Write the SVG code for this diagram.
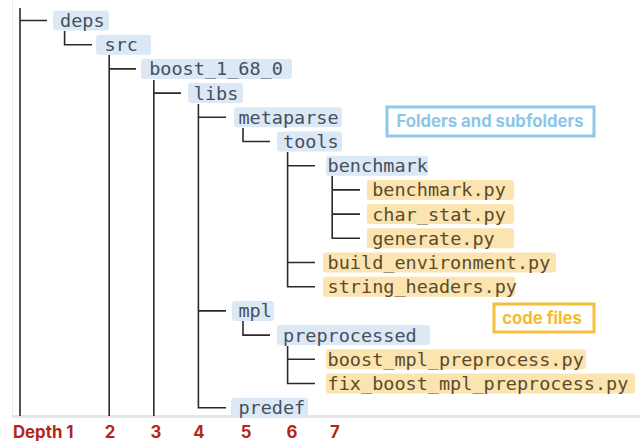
<svg xmlns="http://www.w3.org/2000/svg" width="640" height="441" viewBox="0 0 640 441">
<style>
.t{font-family:"DejaVu Sans Mono","Liberation Mono",monospace;font-size:18.5px}
.fd rect{fill:#dce8f5}
.fd text{fill:#45505c}
.fl rect{fill:#fbe4b0}
.fl text{fill:#5a4b2b}
.c{fill:none;stroke:#2a2a2a;stroke-width:1.6}
.dp{font-family:Inter,"Liberation Sans",sans-serif;font-weight:700;font-size:16.8px;fill:#b3251d}
.lg{font-family:Inter,"Liberation Sans",sans-serif;font-weight:700;font-size:16.7px}
</style>
<rect width="640" height="441" fill="#ffffff"/>
<line x1="12.5" y1="0" x2="12.5" y2="416" stroke="#ececec" stroke-width="1"/>
<rect x="12" y="415" width="628" height="3" fill="#e6e6e6"/>
<g id="connectors" class="c">
<path d="M20 8V416M20 20.5H47"/>
<path d="M64.6 31V44.7H92"/>
<path d="M109.2 55V416M109.2 68.9H136"/>
<path d="M153.8 80V416M153.8 93.1H181"/>
<path d="M198.4 104V407.7H226M198.4 117.3H226M198.4 310.9H226"/>
<path d="M243 128V141.5H270"/>
<path d="M287.6 152V286.7H315M287.6 165.7H315M287.6 262.5H315"/>
<path d="M332.2 176V238.3H360M332.2 189.9H360M332.2 214.1H360"/>
<path d="M243 321V335.1H270"/>
<path d="M287.6 346V383.5H315M287.6 359.3H315"/>
</g>
<g id="deps" class="fd"><rect x="53" y="10.5" width="56" height="20" rx="3"/><text class="t" x="60" y="27">deps</text></g>
<g id="src" class="fd"><rect x="96" y="34.7" width="55" height="20" rx="3"/><text class="t" x="104.6" y="51.2">src</text></g>
<g id="boost_1_68_0" class="fd"><rect x="141" y="58.9" width="151" height="20" rx="3"/><text class="t" x="149.2" y="75.4">boost_1_68_0</text></g>
<g id="libs" class="fd"><rect x="188" y="83.1" width="55" height="20" rx="3"/><text class="t" x="193.8" y="99.6">libs</text></g>
<g id="metaparse" class="fd"><rect x="234" y="107.3" width="108" height="20" rx="3"/><text class="t" x="238.4" y="123.8">metaparse</text></g>
<g id="tools" class="fd"><rect x="277" y="131.5" width="65" height="20" rx="3"/><text class="t" x="283" y="148">tools</text></g>
<g id="benchmark" class="fd"><rect x="326" y="155.7" width="102" height="20" rx="3"/><text class="t" x="327.6" y="172.2">benchmark</text></g>
<g id="benchmark_py" class="fl"><rect x="367" y="179.9" width="147" height="20" rx="3"/><text class="t" x="372.2" y="196.4">benchmark.py</text></g>
<g id="char_stat_py" class="fl"><rect x="367" y="204.1" width="147" height="20" rx="3"/><text class="t" x="372.2" y="220.6">char_stat.py</text></g>
<g id="generate_py" class="fl"><rect x="367" y="228.3" width="147" height="20" rx="3"/><text class="t" x="372.2" y="244.8">generate.py</text></g>
<g id="build_environment_py" class="fl"><rect x="323" y="252.5" width="233" height="20" rx="3"/><text class="t" x="327.6" y="269">build_environment.py</text></g>
<g id="string_headers_py" class="fl"><rect x="323" y="276.7" width="192" height="20" rx="3"/><text class="t" x="327.6" y="293.2">string_headers.py</text></g>
<g id="mpl" class="fd"><rect x="232" y="300.9" width="42" height="20" rx="3"/><text class="t" x="238.4" y="317.4">mpl</text></g>
<g id="preprocessed" class="fd"><rect x="277" y="325.1" width="153" height="20" rx="3"/><text class="t" x="283" y="341.6">preprocessed</text></g>
<g id="boost_mpl_preprocess_py" class="fl"><rect x="326" y="349.3" width="260" height="20" rx="3"/><text class="t" x="327.6" y="365.8">boost_mpl_preprocess.py</text></g>
<g id="fix_boost_mpl_preprocess_py" class="fl"><rect x="326" y="373.5" width="309" height="20" rx="3"/><text class="t" x="327.6" y="390">fix_boost_mpl_preprocess.py</text></g>
<g id="predef" class="fd"><rect x="231" y="397.7" width="77" height="20" rx="3"/><text class="t" x="238.4" y="414.2">predef</text></g>
<g id="legend_folders"><rect x="387" y="107" width="207" height="29" fill="none" stroke="#90c8e8" stroke-width="3"/><text class="lg" x="490" y="127" text-anchor="middle" fill="#8fc6e6">Folders and subfolders</text></g>
<g id="legend_code"><rect x="494" y="304" width="100" height="28" fill="none" stroke="#f4c040" stroke-width="3"/><text class="lg" x="542" y="324" text-anchor="middle" fill="#f3bb30">code files</text></g>
<g id="depth_labels">
<text class="dp" x="13" y="438">Depth 1</text>
<text class="dp" x="110" y="438" text-anchor="middle">2</text>
<text class="dp" x="156" y="438" text-anchor="middle">3</text>
<text class="dp" x="199" y="438" text-anchor="middle">4</text>
<text class="dp" x="246" y="438" text-anchor="middle">5</text>
<text class="dp" x="292" y="438" text-anchor="middle">6</text>
<text class="dp" x="335" y="438" text-anchor="middle">7</text>
</g>
</svg>
